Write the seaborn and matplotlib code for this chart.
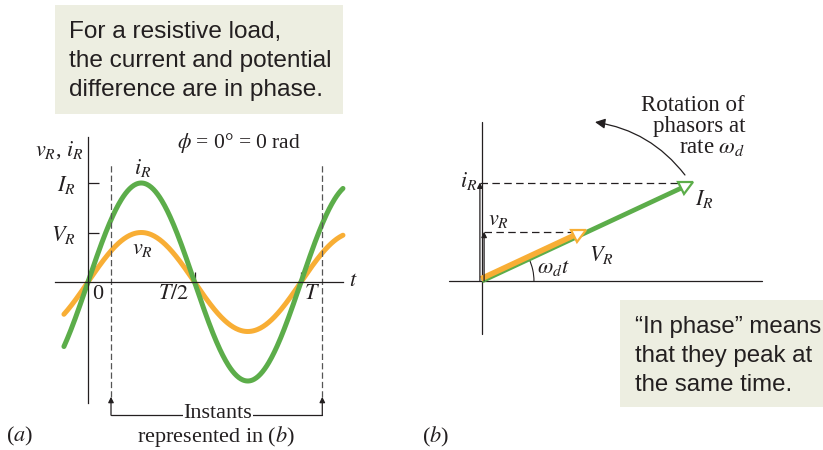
import numpy as np
import pandas as pd
import seaborn as sns
import matplotlib.pyplot as plt
from matplotlib.patches import Rectangle, Arc
from matplotlib.markers import MarkerStyle
from matplotlib.transforms import Affine2D, offset_copy

# values: amplitudes in units of I_R, time in units of T
I_R = 1.0
V_R = 0.5
phase_deg = 0
t_start, t_end = -0.113, 1.197
instants = [0.108, 1.10]
y_ticks = [V_R, I_R]
y_ticklabels = [r"$V_R$", r"$I_R$"]
x_ticks = [0.5, 1.0]
x_ticklabels = ["0", r"$T/2$", r"$T$"]
wdt_deg = 25  # phasor angle omega_d t in (b)

GREEN = "#5CAD4A"
ORANGE = "#F8AE35"
BOX = "#EDEEE1"
INK = "#231F20"

sns.set_theme(style="white")
plt.rcParams["font.family"] = ["Liberation Serif", "DejaVu Serif"]
plt.rcParams["mathtext.fontset"] = "stix"

fig = plt.figure(figsize=(8.23, 4.5), dpi=100)

# ---------- panel (a): waveforms ----------
ax = fig.add_axes([0, 0, 420 / 823, 330 / 450])
ax.set_facecolor("none")
t = np.linspace(t_start, t_end, 400)
phi = np.deg2rad(phase_deg)
df = pd.DataFrame({
    "t": np.concatenate([t, t]),
    "value": np.concatenate([V_R * np.sin(2 * np.pi * t + phi),
                             I_R * np.sin(2 * np.pi * t + phi)]),
    "series": ["v"] * len(t) + ["i"] * len(t),
})
sns.lineplot(data=df, x="t", y="value", hue="series", palette={"v": ORANGE, "i": GREEN},
             legend=False, lw=3.6, ax=ax, sort=False)
ax.set_xlim(-88 / 213, 332 / 213)
ax.set_ylim(-168 / 99, 162 / 99)
ax.set_xlabel("")
ax.set_ylabel("")

sns.despine(ax=ax)
for s in ["left", "bottom"]:
    ax.spines[s].set_position(("data", 0))
    ax.spines[s].set_color(INK)
    ax.spines[s].set_linewidth(0.9)
ax.spines["left"].set_bounds(-1.22, 1.46)
ax.spines["bottom"].set_bounds(-0.155, 1.197)
ax.set_yticks(y_ticks, y_ticklabels)
ax.set_xticks(x_ticks, ["", ""])
ax.tick_params(axis="y", direction="in", length=8, width=0.9, color=INK, pad=9,
               labelsize=16, labelcolor=INK, left=True)
ax.tick_params(axis="x", direction="in", length=7, width=0.9, color=INK, bottom=True)

for xv, lab in zip([0.047, 0.40, 1.05], x_ticklabels):
    ax.text(xv, -0.13, lab, fontsize=16, ha="center", va="center", color=INK)
ax.text(1.245, 0.0, r"$t$", fontsize=16, ha="center", va="center", color=INK)
ax.text(-0.02, 1.33, r"$v_R$, $i_R$", fontsize=16, ha="right", va="center", color=INK)
ax.text(0.71, 1.40, r"$\phi$ = 0° = 0 rad", fontsize=15.5, ha="center", va="center", color=INK)
ax.text(0.258, 1.15, r"$i_R$", fontsize=16, ha="center", va="center", color=INK)
ax.text(0.258, 0.33, r"$v_R$", fontsize=16, ha="center", va="center", color=INK)

for tv in instants:
    ax.plot([tv, tv], [-1.16, 1.18], color="#555555", lw=0.9, ls=(0, (5, 2.5)))
    ax.annotate("", xy=(tv, -1.16), xytext=(tv, -1.345),
                arrowprops=dict(arrowstyle="-|>", lw=0.9, color=INK, mutation_scale=8,
                                shrinkA=0, shrinkB=0))
ax.plot(instants, [-1.345, -1.345], color=INK, lw=0.9)
ax.text(0.61, -1.33, "Instants", fontsize=16, ha="center", va="center", color=INK,
        bbox=dict(fc="white", ec="none", pad=0.5))
ax.text(0.60, -1.565, r"represented in ($b$)", fontsize=16, ha="center", va="center", color=INK)
ax.text(-0.32, -1.565, r"($a$)", fontsize=16, ha="center", va="center", color=INK)

# ---------- panel (b): phasors ----------
bx = fig.add_axes([420 / 823, 0, 403 / 823, 1])
bx.set_facecolor("none")
bx.axis("off")
bx.set_xlim(-62 / 233, 341 / 233)
bx.set_ylim(-169 / 233, 281 / 233)

bx.plot([-0.14, 1.2], [0, 0], color=INK, lw=0.9)
bx.plot([0, 0], [-0.227, 0.682], color=INK, lw=0.9)

th = np.deg2rad(wdt_deg)
ux, uy = np.cos(th), np.sin(th)
ms = 10
head = ms * 1.389 / 233  # marker size in data units


def phasor(length, color, lw, trans):
    base = length - head
    bx.plot([0, base * ux], [0, base * uy], color=color, lw=lw,
            solid_capstyle="butt", transform=trans, zorder=3)
    c = length - head / 2
    bx.plot(c * ux, c * uy, ls="none", ms=ms, mew=1.6, mec=color, mfc="white",
            marker=MarkerStyle(">", transform=Affine2D().rotate_deg(wdt_deg)),
            transform=trans, zorder=4)


phasor(I_R, GREEN, 3.4, bx.transData)
phasor(V_R, ORANGE, 4.0, offset_copy(bx.transData, fig=fig, x=-1.0, y=2.2, units="dots"))

# projections
for length, dx in [(I_R, -0.009), (V_R, 0.009)]:
    bx.plot([dx, length * ux], [length * uy, length * uy], color=INK, lw=0.9,
            ls=(0, (6, 3.5)))
    bx.annotate("", xy=(dx, length * uy), xytext=(dx, 0),
                arrowprops=dict(arrowstyle="-|>", lw=0.9, color=INK, mutation_scale=8,
                                shrinkA=0, shrinkB=0))

bx.add_patch(Arc((0, 0), 0.446, 0.446, theta1=0, theta2=wdt_deg, color=INK, lw=0.8))
bx.annotate("", xy=(0.485, 0.682), xytext=(0.871, 0.455),
            arrowprops=dict(arrowstyle="-|>", lw=0.9, color=INK, mutation_scale=15,
                            shrinkA=0, shrinkB=0, connectionstyle="arc3,rad=0.2"))

bx.text(-0.02, 0.43, r"$i_R$", fontsize=16, ha="right", va="center", color=INK)
bx.text(0.026, 0.26, r"$v_R$", fontsize=16, ha="left", va="center", color=INK)
bx.text(0.915, 0.35, r"$I_R$", fontsize=16, ha="left", va="center", color=INK)
bx.text(0.46, 0.11, r"$V_R$", fontsize=16, ha="left", va="center", color=INK)
bx.text(0.235, 0.056, r"$\omega_d t$", fontsize=16, ha="left", va="center", color=INK)
bx.text(1.129, 0.665, "Rotation of\nphasors at\n" + r"rate $\omega_d$", fontsize=16.5,
        ha="right", va="center", ma="right", color=INK, linespacing=1.0)
bx.text(-0.20, -0.67, r"($b$)", fontsize=16, ha="center", va="center", color=INK)

# ---------- callout boxes ----------
sans = ["Liberation Sans", "DejaVu Sans"]
fig.patches.append(Rectangle((55 / 823, 1 - 114 / 450), 288 / 823, 109 / 450,
                             transform=fig.transFigure, fc=BOX, ec="none", zorder=1))
for i, line in enumerate(["For a resistive load,", "the current and potential",
                          "difference are in phase."]):
    fig.text(69 / 823, 1 - (38 + 29 * i) / 450, line, fontsize=17.6, family=sans,
             color=INK, va="baseline", ha="left", zorder=2)

fig.patches.append(Rectangle((620 / 823, 1 - 407 / 450), 203 / 823, 107 / 450,
                             transform=fig.transFigure, fc=BOX, ec="none", zorder=1))
for i, line in enumerate(["\u201cIn phase\u201d means", "that they peak at",
                          "the same time."]):
    fig.text(635 / 823, 1 - (333 + 29 * i) / 450, line, fontsize=17.3, family=sans,
             color=INK, va="baseline", ha="left", zorder=2)

fig.savefig("out.png", dpi=100)
